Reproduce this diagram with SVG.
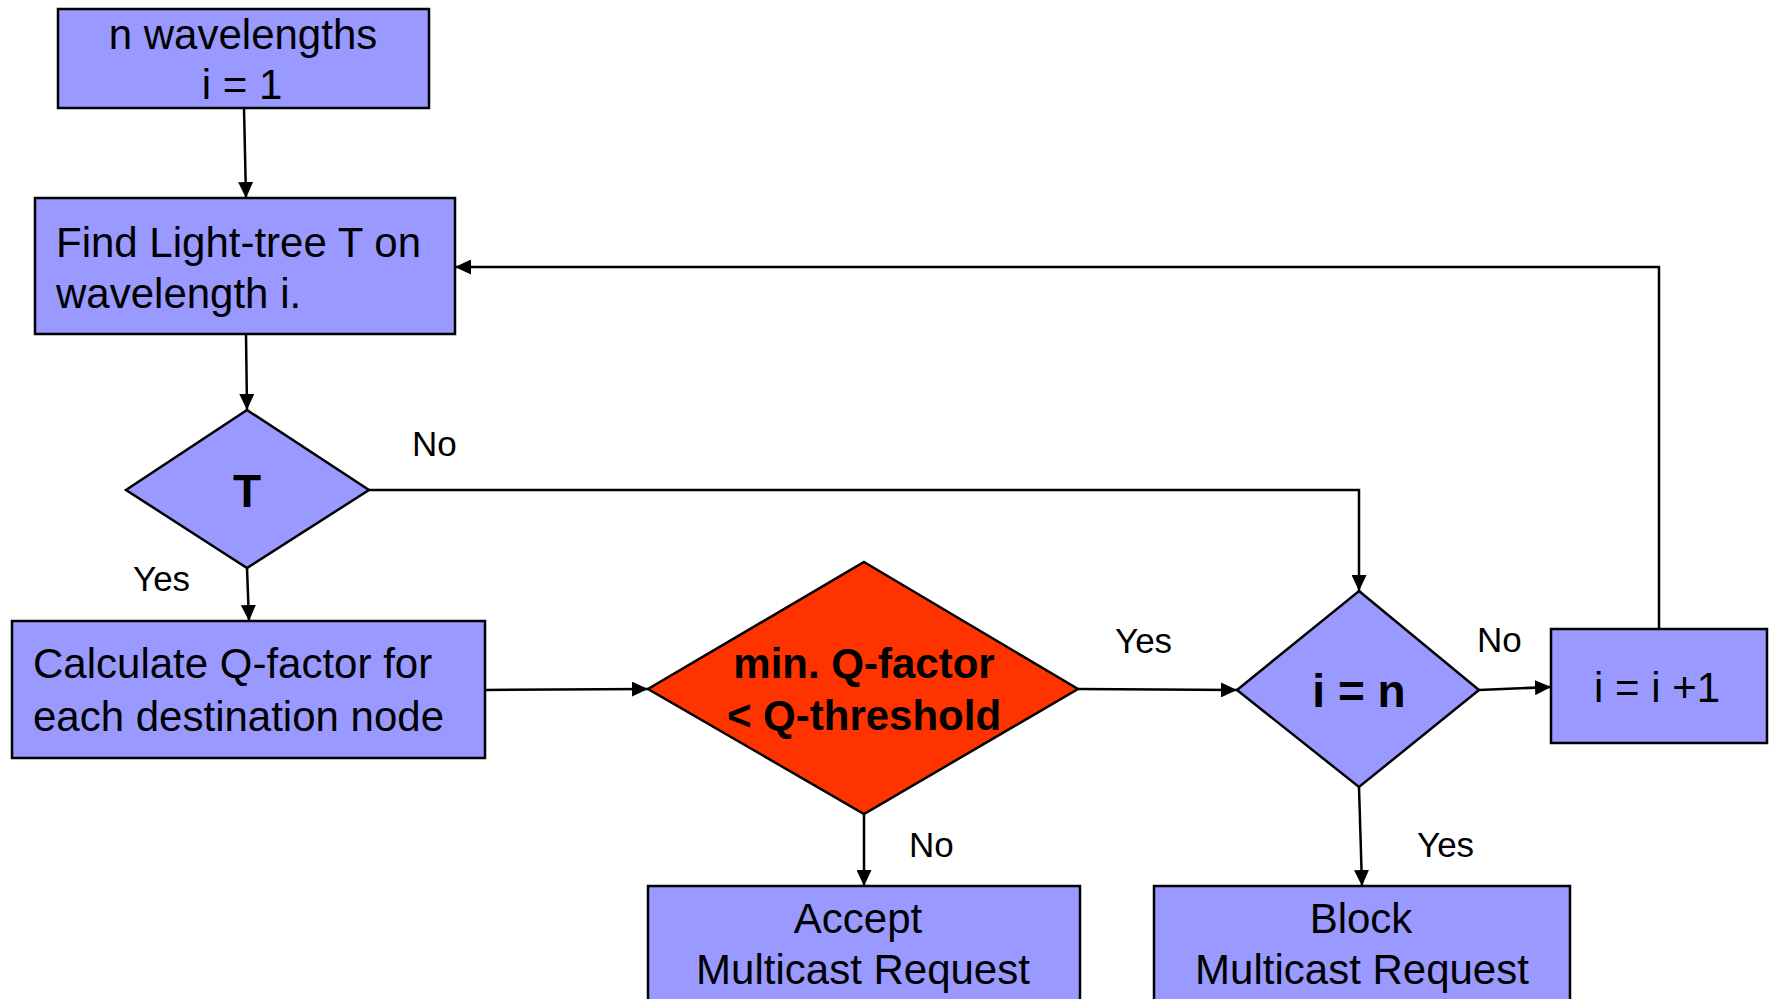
<svg xmlns="http://www.w3.org/2000/svg" width="1773" height="999" viewBox="0 0 1773 999">
  <style>
    .box { fill: #9999FF; stroke: #000; stroke-width: 2.5; }
    .alert { fill: #FF3300; stroke: #000; stroke-width: 2.5; }
    .t { font-family: "Liberation Sans", Arial, sans-serif; font-size: 42px; fill: #000; }
    .c { text-anchor: middle; }
    .b { font-weight: bold; }
    .big { font-size: 46px; }
    .lbl { font-family: "Liberation Sans", Arial, sans-serif; font-size: 35px; fill: #000; }
    .wire { fill: none; stroke: #000; stroke-width: 2.5; marker-end: url(#head); }
  </style>
  <defs>
    <marker id="head" markerUnits="userSpaceOnUse" markerWidth="16" markerHeight="15" refX="16" refY="7.5" orient="auto">
      <path d="M0,0 L16,7.5 L0,15 z" fill="#000"/>
    </marker>
  </defs>
  <rect width="1773" height="999" fill="#fff"/>

  <g id="connectors">
    <path class="wire" d="M244,108 L246,198"/>
    <path class="wire" d="M246,334 L247,410"/>
    <path class="wire" d="M247,568 L249,621"/>
    <path class="wire" d="M485,690 L648,689"/>
    <path class="wire" d="M1078,689 L1237,690"/>
    <path class="wire" d="M1479,690 L1551,687"/>
    <path class="wire" d="M369,490 H1359 V591"/>
    <path class="wire" d="M864,814 L864,886"/>
    <path class="wire" d="M1359,787 L1362,886"/>
    <path class="wire" d="M1659,629 V267 H455"/>
    <text class="lbl" x="412" y="456">No</text>
    <text class="lbl" x="133" y="591">Yes</text>
    <text class="lbl" x="1115" y="653">Yes</text>
    <text class="lbl" x="1477" y="652">No</text>
    <text class="lbl" x="909" y="857">No</text>
    <text class="lbl" x="1417" y="857">Yes</text>
  </g>

  <g id="start">
    <rect class="box" x="58" y="9" width="371" height="99"/>
    <text class="t c" x="243" y="49">n wavelengths</text>
    <text class="t c" x="242" y="99">i = 1</text>
  </g>

  <g id="find-tree">
    <rect class="box" x="35" y="198" width="420" height="136"/>
    <text class="t" x="56" y="257">Find Light-tree T on</text>
    <text class="t" x="56" y="308">wavelength i.</text>
  </g>

  <g id="tree-found">
    <polygon class="box" points="247,410 369,490 247,568 126,490"/>
    <text class="t c b big" x="247" y="507">T</text>
  </g>

  <g id="calc-q">
    <rect class="box" x="12" y="621" width="473" height="137"/>
    <text class="t" x="33" y="678">Calculate Q-factor for</text>
    <text class="t" x="33" y="731">each destination node</text>
  </g>

  <g id="q-check">
    <polygon class="alert" points="864,562 1078,689 864,814 648,689"/>
    <text class="t c b" x="864" y="678">min. Q-factor</text>
    <text class="t c b" x="864" y="730">&lt; Q-threshold</text>
  </g>

  <g id="last-wavelength">
    <polygon class="box" points="1359,591 1479,690 1359,787 1237,690"/>
    <text class="t c b big" x="1359" y="707">i = n</text>
  </g>

  <g id="increment">
    <rect class="box" x="1551" y="629" width="216" height="114"/>
    <text class="t c" x="1657" y="702">i = i +1</text>
  </g>

  <g id="accept">
    <rect class="box" x="648" y="886" width="432" height="130"/>
    <text class="t c" x="858" y="933">Accept</text>
    <text class="t c" x="863" y="984">Multicast Request</text>
  </g>

  <g id="block">
    <rect class="box" x="1154" y="886" width="416" height="130"/>
    <text class="t c" x="1361" y="933">Block</text>
    <text class="t c" x="1362" y="984">Multicast Request</text>
  </g>
</svg>
